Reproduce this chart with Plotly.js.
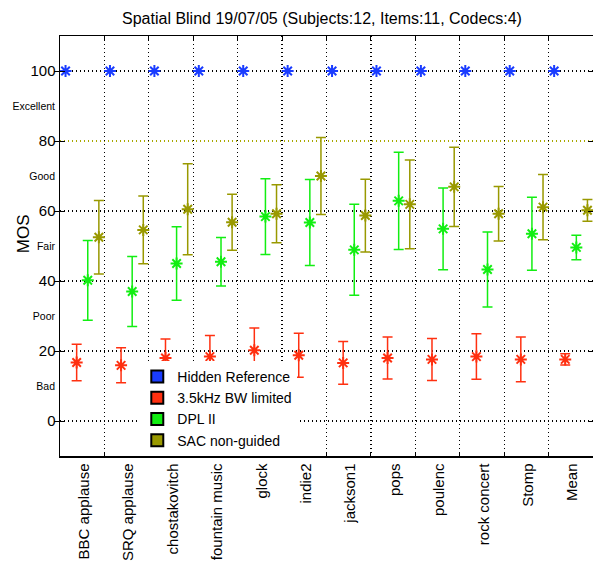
<!DOCTYPE html>
<html>
<head>
<meta charset="utf-8">
<script src="https://cdn.plot.ly/plotly-3.0.1.min.js"></script>
<style>html,body{margin:0;padding:0;background:#fff;}#chart{width:593px;height:561px;}</style>
</head>
<body>
<div id="chart"></div>
<script>
const categories = ['BBC applause','SRQ applause','chostakovitch','fountain music','glock','indie2','jackson1','pops','poulenc','rock concert','Stomp','Mean'];
const seriesNames = ['Hidden Reference','3.5kHz BW limited','DPL II','SAC non-guided'];

const hiddenRef   = [100,100,100,100,100,100,100,100,100,100,100,100];
const hiddenRefCI = [0,0,0,0,0,0,0,0,0,0,0,0];
const bwLimited   = [16.7,15.9,18.0,18.4,20.2,18.8,16.6,18.0,17.6,18.4,17.6,17.6];
const bwLimitedCI = [5.2,5.0,5.4,6.0,6.4,6.3,6.1,6.0,6.0,6.5,6.4,1.6];
const dpl2        = [40.2,37.0,45.0,45.5,58.4,56.7,48.9,62.9,54.9,43.3,53.5,49.6];
const dpl2CI      = [11.4,10.0,10.5,6.9,10.8,12.3,13.0,13.9,11.7,10.7,10.4,3.5];
const sac         = [52.5,54.6,60.5,56.8,59.2,70.0,58.7,61.9,66.9,59.2,61.1,60.2];
const sacCI       = [10.5,9.7,13.0,8.0,8.3,11.0,10.4,12.7,11.3,7.8,9.3,3.1];

const yTickVals = [0,20,40,60,80,100];
const yGridVals = [0,20,40,60,100];
const refLineVals = [80];
const qualityVals = [10,30,50,70,90];
const qualityLabels = ['Bad','Poor','Fair','Good','Excellent'];

const colors = ['#1a3cff','#ff3010','#12ee12','#999900'];
const offsets = [-0.375,-0.125,0.125,0.375];
const seriesValues = [hiddenRef,bwLimited,dpl2,sac];
const seriesCI = [hiddenRefCI,bwLimitedCI,dpl2CI,sacCI];

const FONT = 'Liberation Sans, Arial, Helvetica, sans-serif';
const DOT = '1px,3px';
const traces = [];
// helper traces so that the overlay axes (grids, extra labels) get drawn
[['x2','y'],['x','y2'],['x','y3'],['x','y4']].forEach(([xa, ya]) => {
  traces.push({type: 'scatter', mode: 'markers', x: [null], y: [null], xaxis: xa, yaxis: ya, showlegend: false, hoverinfo: 'skip'});
});
seriesValues.forEach((vals, s) => {
  traces.push({
    type: 'scatter', mode: 'markers',
    x: vals.map((v, i) => i + offsets[s]), y: vals,
    showlegend: false,
    marker: {symbol: 'asterisk-open', size: 10, color: colors[s], line: {color: colors[s], width: 2}},
    error_y: {type: 'data', array: seriesCI[s], visible: true, color: colors[s], thickness: 1.5, width: 5},
    hoverinfo: 'skip'
  });
});
seriesNames.forEach((name, s) => {
  traces.push({
    type: 'scatter', mode: 'markers', name: name,
    x: [null], y: [null],
    marker: {symbol: 'square', size: 11, color: colors[s], line: {color: '#000', width: 1}}
  });
});

const xr = [-0.5, categories.length - 0.5];
const yr = [-10, 110];
const sepVals = categories.slice(1).map((c, i) => i + 0.5);

const layout = {
  width: 593, height: 561,
  margin: {l: 60, r: 0, t: 36, b: 105},
  paper_bgcolor: '#fff', plot_bgcolor: '#fff',
  font: {family: FONT, color: '#000'},
  title: {text: 'Spatial Blind 19/07/05 (Subjects:12, Items:11, Codecs:4)', font: {size: 16, family: FONT}, x: 0.543, xanchor: 'center', y: 0.968, yanchor: 'middle'},
  xaxis: {
    range: xr, tickmode: 'array', tickvals: categories.map((c, i) => i + 0.04), ticktext: categories,
    tickangle: -90, ticks: '', showgrid: false, zeroline: false,
    showline: true, mirror: true, linecolor: '#000', linewidth: 1.5,
    tickfont: {size: 15, family: FONT}
  },
  xaxis2: {
    overlaying: 'x', anchor: 'y', range: xr, tickmode: 'array', tickvals: sepVals,
    showticklabels: false, ticks: 'inside', ticklen: 4, tickcolor: '#000', mirror: 'allticks',
    showline: false, showgrid: true, gridcolor: '#000', griddash: DOT, gridwidth: 1.2, zeroline: false
  },
  yaxis: {
    range: yr, tickmode: 'array', tickvals: yTickVals, ticks: 'inside', ticklen: 5, tickcolor: '#000',
    showline: true, mirror: 'allticks', linecolor: '#000', linewidth: 1.5,
    showgrid: false, zeroline: false, tickfont: {size: 15, family: FONT}
  },
  yaxis2: {
    overlaying: 'y', anchor: 'x', range: yr, tickmode: 'array', tickvals: yGridVals,
    showticklabels: false, ticks: '', showgrid: true, gridcolor: '#000', griddash: DOT, gridwidth: 1.2, zeroline: false
  },
  yaxis3: {
    overlaying: 'y', anchor: 'x', range: yr, tickmode: 'array', tickvals: refLineVals,
    showticklabels: false, ticks: '', showgrid: true, gridcolor: '#a8a800', griddash: DOT, gridwidth: 1.2, zeroline: false
  },
  yaxis4: {
    overlaying: 'y', anchor: 'x', range: yr, tickmode: 'array', tickvals: qualityVals, ticktext: qualityLabels,
    ticks: '', ticklabelstandoff: 4, showgrid: false, zeroline: false, tickfont: {size: 10.5, family: FONT}
  },
  legend: {
    x: 0.145, y: 0, xanchor: 'left', yanchor: 'bottom', bgcolor: '#fff', borderwidth: 0,
    font: {size: 14, family: FONT}, tracegroupgap: 0, itemsizing: 'constant'
  },
  annotations: [{
    text: 'MOS', xref: 'paper', yref: 'paper', x: -0.068, y: 0.53, xanchor: 'center', yanchor: 'middle',
    textangle: -90, showarrow: false, font: {size: 17, family: FONT}
  }]
};

Plotly.newPlot('chart', traces, layout, {staticPlot: true, displayModeBar: false});
</script>
</body>
</html>
